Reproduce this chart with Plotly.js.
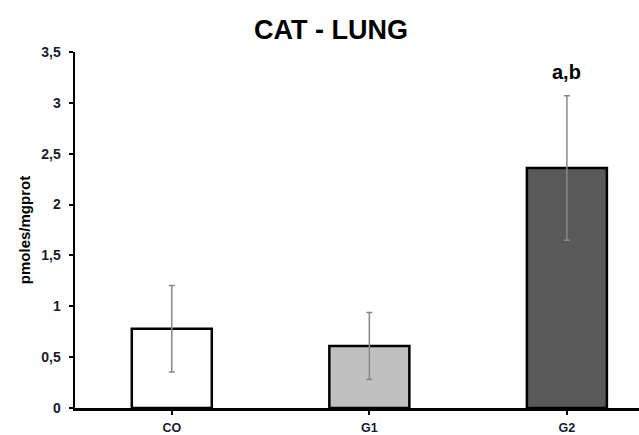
<!DOCTYPE html>
<html>
<head>
<meta charset="utf-8">
<script src="https://cdn.plot.ly/plotly-3.0.1.min.js"></script>
<style>html,body{margin:0;padding:0;background:#fff;}#chart{width:639px;height:435px;}</style>
</head>
<body>
<div id="chart"></div>
<script>
var categories = ["CO", "G1", "G2"];
var means = [0.78, 0.61, 2.36];
var errors = [0.425, 0.33, 0.71];
var barColors = ["#ffffff", "#c0c0c0", "#595959"];
var yTickVals = [0, 0.5, 1, 1.5, 2, 2.5, 3, 3.5];
var yTickText = ["0", "0,5", "1", "1,5", "2", "2,5", "3", "3,5"];
var sigLabel = "a,b";
var sigIndex = 2;
var sigY = 3.3;

var trace = {
  type: "bar",
  x: [0, 1, 2],
  y: means,
  width: 0.405,
  marker: { color: barColors, line: { color: "#000", width: 2.5 } },
  error_y: { type: "data", array: errors, visible: true, color: "#888888", thickness: 1.5, width: 3 },
  hoverinfo: "none"
};

var font = "Liberation Sans, Arial, sans-serif";
var layout = {
  width: 639, height: 435,
  margin: { l: 75, r: 0, t: 52, b: 27, pad: 0 },
  paper_bgcolor: "#fff", plot_bgcolor: "#fff",
  showlegend: false,
  bargap: 0,
  title: { text: "<b>CAT - LUNG</b>", x: 0.518, xanchor: "center", xref: "container",
           y: 0.933, yanchor: "middle", yref: "container",
           font: { family: font, size: 27, color: "#000" } },
  xaxis: {
    range: [-0.49, 2.365],
    tickmode: "array", tickvals: [0, 1, 2], ticktext: categories.map(function(c){return "<b>"+c+"</b>";}),
    tickson: "boundaries",
    ticks: "outside", ticklen: 4, tickwidth: 2, tickcolor: "#000",
    ticklabelstandoff: 2,
    showline: true, linecolor: "#000", linewidth: 2.5,
    showgrid: false, zeroline: false,
    tickfont: { family: font, size: 12.5, color: "#1a1a2e" }
  },
  yaxis: {
    range: [0, 3.5],
    tickmode: "array", tickvals: yTickVals, ticktext: yTickText.map(function(t){return "<b>"+t+"</b>";}),
    ticks: "outside", ticklen: 4, tickwidth: 2, tickcolor: "#000",
    ticklabelstandoff: 5,
    showline: true, linecolor: "#000", linewidth: 2.5,
    showgrid: false, zeroline: false,
    tickfont: { family: font, size: 14, color: "#1a1a2e" },
    title: { text: "<b>pmoles/mgprot</b>", standoff: 7,
             font: { family: font, size: 15, color: "#000" } }
  },
  annotations: [{
    x: sigIndex, y: sigY, xref: "x", yref: "y", text: "<b>" + sigLabel + "</b>",
    showarrow: false, font: { family: font, size: 20, color: "#000" }
  }]
};

Plotly.newPlot("chart", [trace], layout, { displayModeBar: false, staticPlot: true });
</script>
</body>
</html>
